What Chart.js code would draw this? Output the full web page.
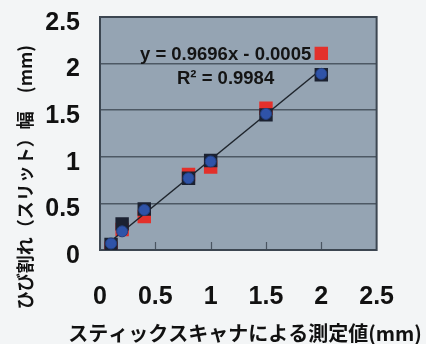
<!DOCTYPE html>
<html>
<head>
<meta charset="utf-8">
<script src="https://cdn.jsdelivr.net/npm/chart.js@4/dist/chart.umd.min.js"></script>
<style>
  html, body { margin: 0; padding: 0; background: #f3f5f6; }
  #c { display: block; }
</style>
</head>
<body>
<canvas id="c" width="426" height="344"></canvas>
<script>
// ---- data ----
const xValues    = [0.1, 0.2, 0.4, 0.8, 1.0, 1.5, 2.0];
const redValues  = [0.02, 0.22, 0.36, 0.81, 0.89, 1.52, 2.11];
const darkValues = [0.06, 0.28, 0.44, 0.77, 0.96, 1.45, 1.88];
const blueValues = [0.07, 0.20, 0.43, 0.77, 0.95, 1.46, 1.89];
const trendX = [0.05, 2.0];
const trendY = [0.048, 1.939];
const xTickLabels = ['0', '0.5', '1', '1.5', '2', '2.5'];
const yTickLabels = ['0', '0.5', '1', '1.5', '2', '2.5'];
const equationText = 'y = 0.9696x - 0.0005';
const r2Text = 'R² = 0.9984';
const xTitle = 'スティックスキャナによる測定値(mm)';
const yTitle = 'ひび割れ（スリット）幅　(mm)';

const toPts = (xs, ys) => xs.map((x, i) => ({ x: x, y: ys[i] }));

const decor = {
  id: 'decor',
  beforeDraw(chart) {
    const { ctx, chartArea: a } = chart;
    ctx.save();
    ctx.fillStyle = '#f3f5f6';
    ctx.fillRect(0, 0, chart.width, chart.height);
    ctx.fillStyle = '#95a4b3';
    ctx.fillRect(a.left, a.top, a.right - a.left, a.bottom - a.top);
    ctx.restore();
  },
  beforeDatasetsDraw(chart) {
    const { ctx, chartArea: a, scales } = chart;
    ctx.save();
    ctx.strokeStyle = '#4a5561';
    ctx.lineWidth = 1.2;
    [0.5, 1, 1.5, 2].forEach(v => {
      const px = Math.round(scales.x.getPixelForValue(v)) + 0.5;
      ctx.beginPath();
      ctx.moveTo(px, a.bottom);
      ctx.lineTo(px, a.bottom - 8);
      ctx.stroke();
    });
    ctx.strokeStyle = '#3c4651';
    ctx.lineWidth = 2;
    ctx.strokeRect(a.left, a.top, a.right - a.left, a.bottom - a.top);
    ctx.restore();
  },
  afterDraw(chart) {
    const { ctx, scales } = chart;
    ctx.save();
    ctx.fillStyle = '#141414';
    ctx.textAlign = 'center';
    ctx.textBaseline = 'middle';
    ctx.font = 'bold 18.5px "Liberation Sans", Arial, sans-serif';
    const ex = scales.x.getPixelForValue(1.135);
    ctx.fillText(equationText, ex, scales.y.getPixelForValue(2.09));
    ctx.fillText(r2Text, ex, scales.y.getPixelForValue(1.84));
    // axis titles
    ctx.fillStyle = '#111';
    ctx.font = 'bold 20px "Noto Sans CJK JP", sans-serif';
    ctx.fillText(xTitle, 245, 333);
    ctx.translate(25, 177);
    ctx.rotate(-Math.PI / 2);
    ctx.font = 'bold 18px "Noto Sans CJK JP", sans-serif';
    ctx.fillText(yTitle, 0, 0);
    ctx.restore();
  }
};

const tickFont = { family: '"Liberation Sans", Arial, sans-serif', size: 25, weight: 'bold' };

new Chart(document.getElementById('c'), {
  type: 'scatter',
  data: {
    datasets: [
      {
        label: 'blue',
        data: toPts(xValues, blueValues),
        pointStyle: 'circle',
        pointRadius: 5.5,
        backgroundColor: '#2f53a8',
        borderColor: '#24407f',
        borderWidth: 1
      },
      {
        label: 'dark',
        data: toPts(xValues, darkValues),
        pointStyle: 'rect',
        pointRadius: 9.5,
        backgroundColor: '#1b2131',
        borderColor: '#1b2131',
        borderWidth: 0
      },
      {
        label: 'trend',
        type: 'line',
        data: toPts(trendX, trendY),
        borderColor: '#1e242c',
        borderWidth: 1.5,
        pointRadius: 0,
        fill: false
      },
      {
        label: 'red',
        data: toPts(xValues, redValues),
        pointStyle: 'rect',
        pointRadius: 9.5,
        backgroundColor: '#e3302b',
        borderColor: '#e3302b',
        borderWidth: 0
      }
    ]
  },
  options: {
    responsive: false,
    devicePixelRatio: 1,
    animation: false,
    layout: { padding: { top: 17, right: 19, left: 0, bottom: 0 } },
    plugins: { legend: { display: false }, tooltip: { enabled: false } },
    scales: {
      x: {
        type: 'linear',
        min: 0, max: 2.5,
        afterFit(s) { s.height = 94; },
        grid: { display: false, drawTicks: false },
        border: { display: false },
        ticks: {
          stepSize: 0.5,
          padding: 32,
          color: '#111',
          font: tickFont,
          maxRotation: 0,
          autoSkip: false,
          callback: (v, i) => xTickLabels[i]
        },
        title: { display: false }
      },
      y: {
        type: 'linear',
        min: 0, max: 2.5,
        afterFit(s) { s.width = 100; },
        grid: { color: '#4d5864', lineWidth: 1.5, drawTicks: true, tickLength: 18, tickColor: 'rgba(0,0,0,0)' },
        border: { display: false },
        ticks: {
          stepSize: 0.5,
          padding: 2,
          labelOffset: 6,
          color: '#111',
          font: tickFont,
          callback: (v, i) => yTickLabels[i]
        },
        title: { display: false }
      }
    }
  },
  plugins: [decor]
});
</script>
</body>
</html>
